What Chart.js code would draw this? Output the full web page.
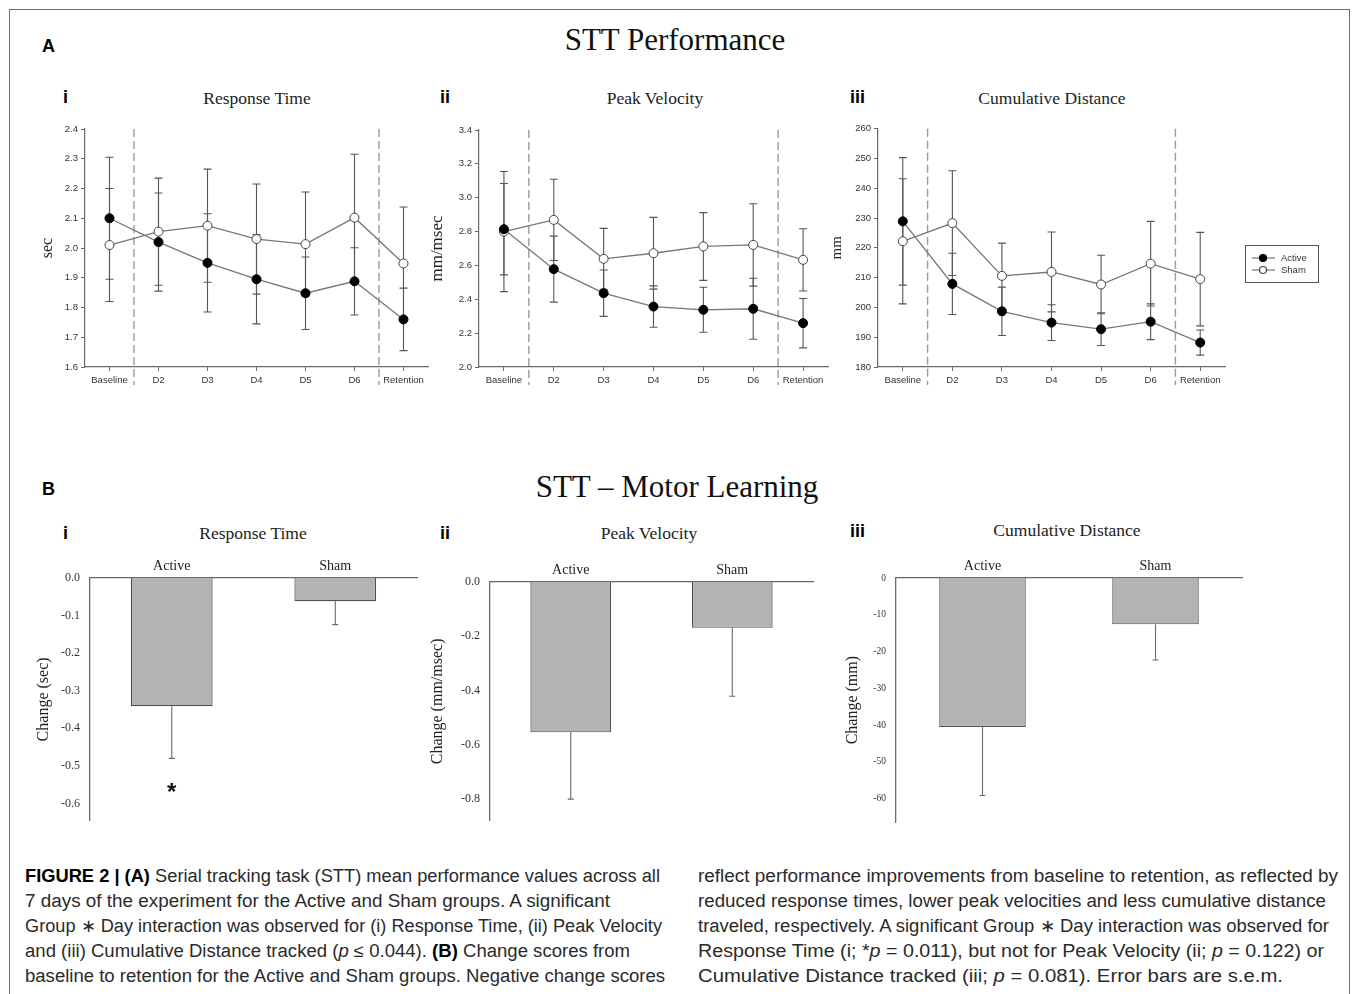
<!DOCTYPE html>
<html>
<head>
<meta charset="utf-8">
<script src="https://cdn.jsdelivr.net/npm/chart.js@4.4.0/dist/chart.umd.min.js"></script>
<style>
body { margin: 0; background: #fff; }
#fig { position: relative; width: 1355px; height: 994px; overflow: hidden; font-family: "Liberation Serif", serif; color: #111; }
#frame { position: absolute; left: 9px; top: 9px; width: 1341px; height: 1000px; border: 1.5px solid #707070; box-sizing: border-box; }
canvas { position: absolute; }
.t { position: absolute; white-space: nowrap; line-height: 1; }
.lbl { font-family: "Liberation Sans", Arial, sans-serif; font-weight: bold; font-size: 18px; color: #000; }
.head { font-size: 31px; transform: translateX(-50%); color: #111; }
.sub { font-size: 17.5px; transform: translateX(-50%); color: #222; }
.cap { position: absolute; top: 864px; font-family: "Liberation Sans Narrow", "Liberation Sans", sans-serif; font-size: 18px; line-height: 25px; color: #2a2a2a; }
.cap div { white-space: nowrap; transform-origin: 0 50%; width: max-content; }
.cap b { color: #000; }
</style>
</head>
<body>
<div id="fig">
  <div id="frame"></div>

  <div class="t lbl" style="left:42px;top:37px">A</div>
  <div class="t head" style="left:675px;top:24px">STT Performance</div>
  <div class="t lbl" style="left:63px;top:88px">i</div>
  <div class="t sub" style="left:257px;top:90px">Response Time</div>
  <div class="t lbl" style="left:440px;top:88px">ii</div>
  <div class="t sub" style="left:655px;top:90px">Peak Velocity</div>
  <div class="t lbl" style="left:850px;top:88px">iii</div>
  <div class="t sub" style="left:1052px;top:90px">Cumulative Distance</div>

  <div class="t lbl" style="left:42px;top:480px">B</div>
  <div class="t head" style="left:677px;top:471px">STT – Motor Learning</div>
  <div class="t lbl" style="left:63px;top:524px">i</div>
  <div class="t sub" style="left:253px;top:525px">Response Time</div>
  <div class="t lbl" style="left:440px;top:524px">ii</div>
  <div class="t sub" style="left:649px;top:525px">Peak Velocity</div>
  <div class="t lbl" style="left:850px;top:522px">iii</div>
  <div class="t sub" style="left:1067px;top:522px">Cumulative Distance</div>

  <canvas id="aRT" width="410" height="280" style="left:30px;top:120px"></canvas>
  <canvas id="aPV" width="420" height="280" style="left:420px;top:120px"></canvas>
  <canvas id="aCD" width="500" height="280" style="left:825px;top:120px"></canvas>
  <canvas id="bRT" width="400" height="318" style="left:30px;top:520px"></canvas>
  <canvas id="bPV" width="400" height="318" style="left:420px;top:520px"></canvas>
  <canvas id="bCD" width="420" height="318" style="left:830px;top:520px"></canvas>

  <div class="cap" style="left:25px">
    <div data-w="635"><b>FIGURE 2 | (A)</b> Serial tracking task (STT) mean performance values across all</div>
    <div data-w="585">7 days of the experiment for the Active and Sham groups. A significant</div>
    <div data-w="637">Group ∗ Day interaction was observed for (i) Response Time, (ii) Peak Velocity</div>
    <div data-w="605">and (iii) Cumulative Distance tracked (<i>p</i> ≤ 0.044). <b>(B)</b> Change scores from</div>
    <div data-w="640">baseline to retention for the Active and Sham groups. Negative change scores</div>
  </div>
  <div class="cap" style="left:698px">
    <div data-w="640">reflect performance improvements from baseline to retention, as reflected by</div>
    <div data-w="628">reduced response times, lower peak velocities and less cumulative distance</div>
    <div data-w="631">traveled, respectively. A significant Group ∗ Day interaction was observed for</div>
    <div data-w="626">Response Time (i; *<i>p</i> = 0.011), but not for Peak Velocity (ii; <i>p</i> = 0.122) or</div>
    <div data-w="585">Cumulative Distance tracked (iii; <i>p</i> = 0.081). Error bars are s.e.m.</div>
  </div>
</div>

<script>
// days and groups
const days = ['Baseline', 'D2', 'D3', 'D4', 'D5', 'D6', 'Retention'];
const groups = ['Active', 'Sham'];
// phase boundaries drawn after these day indexes (Baseline | training | Retention)
const phaseBreaks = [0, 5];

// A i - response time (sec)
const rtActive = [2.10, 2.02, 1.95, 1.895, 1.848, 1.888, 1.76];
const rtActiveErr = [0.205, 0.165, 0.165, 0.15, 0.122, 0.113, 0.105];
const rtSham = [2.01, 2.055, 2.075, 2.03, 2.013, 2.102, 1.948];
const rtShamErr = [0.19, 0.18, 0.19, 0.185, 0.175, 0.213, 0.19];

// A ii - peak velocity (mm/msec)
const pvActive = [2.814, 2.578, 2.436, 2.357, 2.338, 2.344, 2.259];
const pvActiveErr = [0.27, 0.195, 0.137, 0.122, 0.133, 0.18, 0.146];
const pvSham = [2.80, 2.869, 2.639, 2.672, 2.712, 2.721, 2.633];
const pvShamErr = [0.355, 0.24, 0.18, 0.212, 0.2, 0.243, 0.184];

// A iii - cumulative distance (mm)
const cdActive = [228.9, 207.9, 198.7, 194.9, 192.7, 195.2, 188.2];
const cdActiveErr = [21.4, 10.3, 8.1, 6, 5.5, 6, 4.2];
const cdSham = [222.2, 228.3, 210.6, 211.9, 207.7, 214.7, 209.5];
const cdShamErr = [21, 17.6, 11, 13.4, 9.8, 14.2, 15.7];

// B - change from baseline to retention
const rtChange = [-0.341, -0.062];
const rtChangeErr = [0.139, 0.062];
const rtChangeSig = ['*', ''];
const pvChange = [-0.554, -0.169];
const pvChangeErr = [0.246, 0.252];
const cdChange = [-40.5, -12.6];
const cdChangeErr = [18.6, 9.7];

Chart.defaults.font.family = '"Liberation Serif", "Times New Roman", serif';
Chart.defaults.color = '#333';

const axisGray = '#6a6a6a';
const lineGray = '#777';
const sansTick = { family: '"Liberation Sans", Arial, sans-serif', size: 9.5 };

// s.e.m. bars, drawn under the markers
const errBars = {
  id: 'errBars',
  beforeDatasetsDraw(chart, args, opts) {
    const ctx = chart.ctx, ys = chart.scales.y;
    chart.data.datasets.forEach((ds, di) => {
      if (!ds.err) return;
      const meta = chart.getDatasetMeta(di);
      ctx.save();
      ctx.strokeStyle = opts.color;
      ctx.lineWidth = opts.width;
      meta.data.forEach((el, i) => {
        const v = ds.data[i], e = ds.err[i], c = opts.cap;
        const yTop = ys.getPixelForValue(opts.downOnly ? v : v + e);
        const yBot = ys.getPixelForValue(v - e);
        ctx.beginPath();
        ctx.moveTo(el.x, yTop);
        ctx.lineTo(el.x, yBot);
        ctx.moveTo(el.x - c, yBot);
        ctx.lineTo(el.x + c, yBot);
        if (!opts.downOnly) {
          ctx.moveTo(el.x - c, yTop);
          ctx.lineTo(el.x + c, yTop);
        }
        ctx.stroke();
      });
      ctx.restore();
    });
  }
};

// dashed separators between baseline / training days / retention
const phaseLines = {
  id: 'phaseLines',
  beforeDatasetsDraw(chart, args, opts) {
    const x = chart.scales.x, area = chart.chartArea, ctx = chart.ctx;
    ctx.save();
    ctx.strokeStyle = opts.color;
    ctx.lineWidth = opts.width;
    ctx.setLineDash(opts.dash);
    opts.after.forEach(i => {
      const px = (x.getPixelForValue(i) + x.getPixelForValue(i + 1)) / 2;
      ctx.beginPath();
      ctx.moveTo(px, area.top);
      ctx.lineTo(px, area.bottom + opts.below);
      ctx.stroke();
    });
    ctx.restore();
  }
};

// boxed legend out to the right of panel iii
const boxLegend = {
  id: 'boxLegend',
  afterDraw(chart, args, opts) {
    const ctx = chart.ctx;
    ctx.save();
    ctx.strokeStyle = '#555';
    ctx.lineWidth = 1;
    ctx.strokeRect(opts.x + 0.5, opts.y + 0.5, opts.w, opts.h);
    chart.data.datasets.forEach((ds, i) => {
      const ly = opts.y + 13 + i * 12;
      ctx.strokeStyle = ds.borderColor;
      ctx.lineWidth = 1.2;
      ctx.beginPath();
      ctx.moveTo(opts.x + 7, ly);
      ctx.lineTo(opts.x + 30, ly);
      ctx.stroke();
      ctx.beginPath();
      ctx.arc(opts.x + 18, ly, 3.5, 0, Math.PI * 2);
      ctx.fillStyle = ds.pointBackgroundColor;
      ctx.fill();
      ctx.strokeStyle = ds.pointBorderColor;
      ctx.stroke();
      ctx.fillStyle = '#333';
      ctx.font = '9.5px "Liberation Sans", Arial, sans-serif';
      ctx.textBaseline = 'middle';
      ctx.fillText(ds.label, opts.x + 36, ly);
    });
    ctx.restore();
  }
};

// significance mark under a bar
const starMarks = {
  id: 'starMarks',
  afterDatasetsDraw(chart, args, opts) {
    const ds = chart.data.datasets[0], meta = chart.getDatasetMeta(0), ys = chart.scales.y, ctx = chart.ctx;
    ctx.save();
    ctx.fillStyle = '#111';
    ctx.font = 'bold 24px "Liberation Sans", Arial, sans-serif';
    ctx.textAlign = 'center';
    ctx.textBaseline = 'alphabetic';
    opts.marks.forEach((m, i) => {
      if (!m) return;
      const el = meta.data[i];
      ctx.fillText(m, el.x, ys.getPixelForValue(ds.data[i] - ds.err[i]) + opts.gap);
    });
    ctx.restore();
  }
};

function lineChart(id, c) {
  return new Chart(document.getElementById(id), {
    type: 'line',
    data: {
      labels: days,
      datasets: [
        { label: 'Active', data: c.active, err: c.activeErr, borderColor: lineGray, borderWidth: 1.3,
          pointRadius: 4.5, pointBackgroundColor: '#000', pointBorderColor: '#000', pointBorderWidth: 1 },
        { label: 'Sham', data: c.sham, err: c.shamErr, borderColor: lineGray, borderWidth: 1.3,
          pointRadius: 4.5, pointBackgroundColor: '#fff', pointBorderColor: '#444', pointBorderWidth: 1 }
      ]
    },
    options: {
      responsive: false,
      animation: false,
      layout: { padding: c.pad },
      plugins: {
        legend: { display: false },
        tooltip: { enabled: false },
        errBars: { color: '#555', width: 1.1, cap: 4 },
        phaseLines: { after: phaseBreaks, color: '#9a9a9a', width: 1.4, dash: [8, 4], below: 18 },
        boxLegend: c.legend || false
      },
      scales: {
        x: {
          offset: true,
          grid: { offset: false, drawOnChartArea: false, tickLength: 4, color: axisGray },
          border: { color: axisGray, width: 1.2 },
          ticks: { font: sansTick, color: '#333', padding: 4, maxRotation: 0, autoSkip: false },
          afterFit: s => { s.height = 33; }
        },
        y: {
          min: c.min, max: c.max,
          grid: { drawOnChartArea: false, tickLength: 4, color: axisGray },
          border: { color: axisGray, width: 1.2 },
          ticks: { stepSize: c.step, font: sansTick, color: '#333', padding: 3, callback: v => v.toFixed(c.dec) },
          title: { display: true, text: c.yTitle, font: { size: c.titleSize }, color: '#222', padding: 0 },
          afterFit: s => { s.width = c.yWidth; }
        }
      }
    },
    plugins: [errBars, phaseLines, boxLegend]
  });
}

function barChart(id, c) {
  return new Chart(document.getElementById(id), {
    type: 'bar',
    data: {
      labels: groups,
      datasets: [{
        data: c.values, err: c.errs,
        backgroundColor: '#b3b3b3', borderColor: '#505050', borderWidth: 1.2,
        barPercentage: 0.5, categoryPercentage: 1
      }]
    },
    options: {
      responsive: false,
      animation: false,
      layout: { padding: c.pad },
      plugins: {
        legend: { display: false },
        tooltip: { enabled: false },
        errBars: { color: '#6a6a6a', width: 1.1, cap: 3, downOnly: true },
        starMarks: c.marks ? { marks: c.marks, gap: 42 } : false
      },
      scales: {
        x: {
          position: 'top',
          grid: { display: false, drawTicks: false },
          border: { color: axisGray, width: 1.3 },
          ticks: { font: { size: 14 }, color: '#222', padding: 3 },
          afterFit: s => { s.height = c.xHeight; }
        },
        y: {
          min: c.min, max: 0,
          grid: { display: false, drawTicks: false },
          border: { color: axisGray, width: 1.3 },
          ticks: {
            stepSize: c.step, font: { size: c.tickSize }, color: '#333', padding: 10,
            callback: v => Math.abs(v / c.step - Math.round(v / c.step)) < 1e-6 ? v.toFixed(c.dec) : ''
          },
          title: { display: true, text: c.yTitle, font: { size: 16 }, color: '#222', padding: 0 },
          afterFit: s => { s.width = c.yWidth; }
        }
      }
    },
    plugins: [errBars, starMarks]
  });
}

lineChart('aRT', { active: rtActive, activeErr: rtActiveErr, sham: rtSham, shamErr: rtShamErr,
  min: 1.6, max: 2.4, step: 0.1, dec: 1, yTitle: 'sec', titleSize: 16, yWidth: 47,
  pad: { left: 8, top: 9, right: 12, bottom: 0 } });

lineChart('aPV', { active: pvActive, activeErr: pvActiveErr, sham: pvSham, shamErr: pvShamErr,
  min: 2.0, max: 3.4, step: 0.2, dec: 1, yTitle: 'mm/msec', titleSize: 17, yWidth: 52,
  pad: { left: 7, top: 10, right: 12, bottom: 0 } });

lineChart('aCD', { active: cdActive, activeErr: cdActiveErr, sham: cdSham, shamErr: cdShamErr,
  min: 180, max: 260, step: 10, dec: 0, yTitle: 'mm', titleSize: 15, yWidth: 50,
  pad: { left: 3, top: 8, right: 100, bottom: 0 },
  legend: { x: 420, y: 125, w: 73, h: 37 } });

barChart('bRT', { values: rtChange, errs: rtChangeErr, marks: rtChangeSig,
  min: -0.646, step: 0.1, dec: 1, tickSize: 12, yTitle: 'Change (sec)', yWidth: 56, xHeight: 58,
  pad: { left: 4, top: 0, right: 13, bottom: 0 } });

barChart('bPV', { values: pvChange, errs: pvChangeErr,
  min: -0.88, step: 0.2, dec: 1, tickSize: 12, yTitle: 'Change (mm/msec)', yWidth: 62, xHeight: 62,
  pad: { left: 8, top: 0, right: 7, bottom: 0 } });

barChart('bCD', { values: cdChange, errs: cdChangeErr,
  min: -66.4, step: 10, dec: 0, tickSize: 9.5, yTitle: 'Change (mm)', yWidth: 53, xHeight: 58,
  pad: { left: 13, top: 0, right: 8, bottom: 0 } });

// caption lines squeezed to the widths in the printed figure
document.querySelectorAll('.cap div').forEach(d => {
  const w = d.getBoundingClientRect().width;
  d.style.transform = 'scaleX(' + (+d.dataset.w / w) + ')';
});
</script>
</body>
</html>
